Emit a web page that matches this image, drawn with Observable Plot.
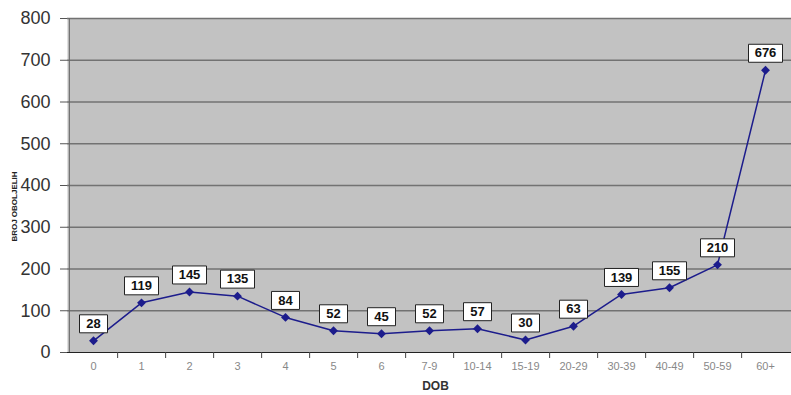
<!DOCTYPE html>
<html><head><meta charset="utf-8">
<script src="https://cdn.jsdelivr.net/npm/d3@7"></script>
<script src="https://cdn.jsdelivr.net/npm/@observablehq/plot@0.6"></script>
<style>body{margin:0;background:#fff;font-family:"Liberation Sans",Arial,sans-serif}</style>
</head><body><div id="chart"></div>
<script>
const categories = ["0","1","2","3","4","5","6","7-9","10-14","15-19","20-29","30-39","40-49","50-59","60+"];
const values = [28,119,145,135,84,52,45,52,57,30,63,139,155,210,676];
const yTicks = [0,100,200,300,400,500,600,700,800];

const data = categories.map((c,i)=>({c, v: values[i]}));
const W = 791, H = 395, ML = 67, MR = 0;
const step = (W - ML - MR) / categories.length;
const boxSym = w => ({draw(ctx){ ctx.rect(-w/2, -9, w, 18); }});

const chart = Plot.plot({
  width: W, height: H,
  marginLeft: ML, marginRight: MR, marginTop: 18, marginBottom: 43,
  style: {fontFamily: '"Liberation Sans", Arial, sans-serif', background: "#fff", overflow: "visible"},
  x: {type: "band", domain: categories, padding: 0},
  y: {domain: [0, 800]},
  marks: [
    Plot.frame({fill: "#c2c2c2", stroke: null}),
    Plot.ruleY(yTicks.filter(d => d > 0), {stroke: "#727272", strokeWidth: 1.6}),
    Plot.axisY({ticks: yTicks, tickSize: 7, tickPadding: 10, fontSize: 18, fill: "#333", stroke: "#555", label: null}),
    Plot.ruleX([categories[0]], {x: d => d, dx: -step/2, stroke: "#666"}),
    Plot.axisX({tickSize: 0, tickPadding: 10, fontSize: 11, fill: "#888", label: null}),
    Plot.ruleY([0], {stroke: "#222", strokeWidth: 1}),
    Plot.ruleX(categories.slice(0, -1), {x: d => d, dx: step/2, y1: 0, y2: 0, insetBottom: -6, stroke: "#444"}),
    Plot.line(data, {x: "c", y: "v", stroke: "#1c1c8c", strokeWidth: 1.5}),
    Plot.dot(data, {x: "c", y: "v", symbol: "diamond2", r: 4, fill: "#1c1c8c", stroke: null}),
    Plot.dot(data.filter(d => d.v < 100), {x: "c", y: "v", dy: -17, symbol: boxSym(28), fill: "#fff", stroke: "#222", strokeWidth: 1}),
    Plot.dot(data.filter(d => d.v >= 100), {x: "c", y: "v", dy: -17, symbol: boxSym(34), fill: "#fff", stroke: "#222", strokeWidth: 1}),
    Plot.text(data, {x: "c", y: "v", text: d => String(d.v), dy: -17, fontSize: 13, fontWeight: "bold", fill: "#111"}),
    Plot.text(["DOB"], {frameAnchor: "bottom", dx: 6, dy: 37, fontSize: 12, fontWeight: "bold", fill: "#333"}),
    Plot.text(["BROJ OBOLJELIH"], {frameAnchor: "left", textAnchor: "middle", dx: -53, dy: 21, rotate: -90, fontSize: 8, fontWeight: "bold", fill: "#222"})
  ]
});
document.getElementById("chart").appendChild(chart);
</script></body></html>
